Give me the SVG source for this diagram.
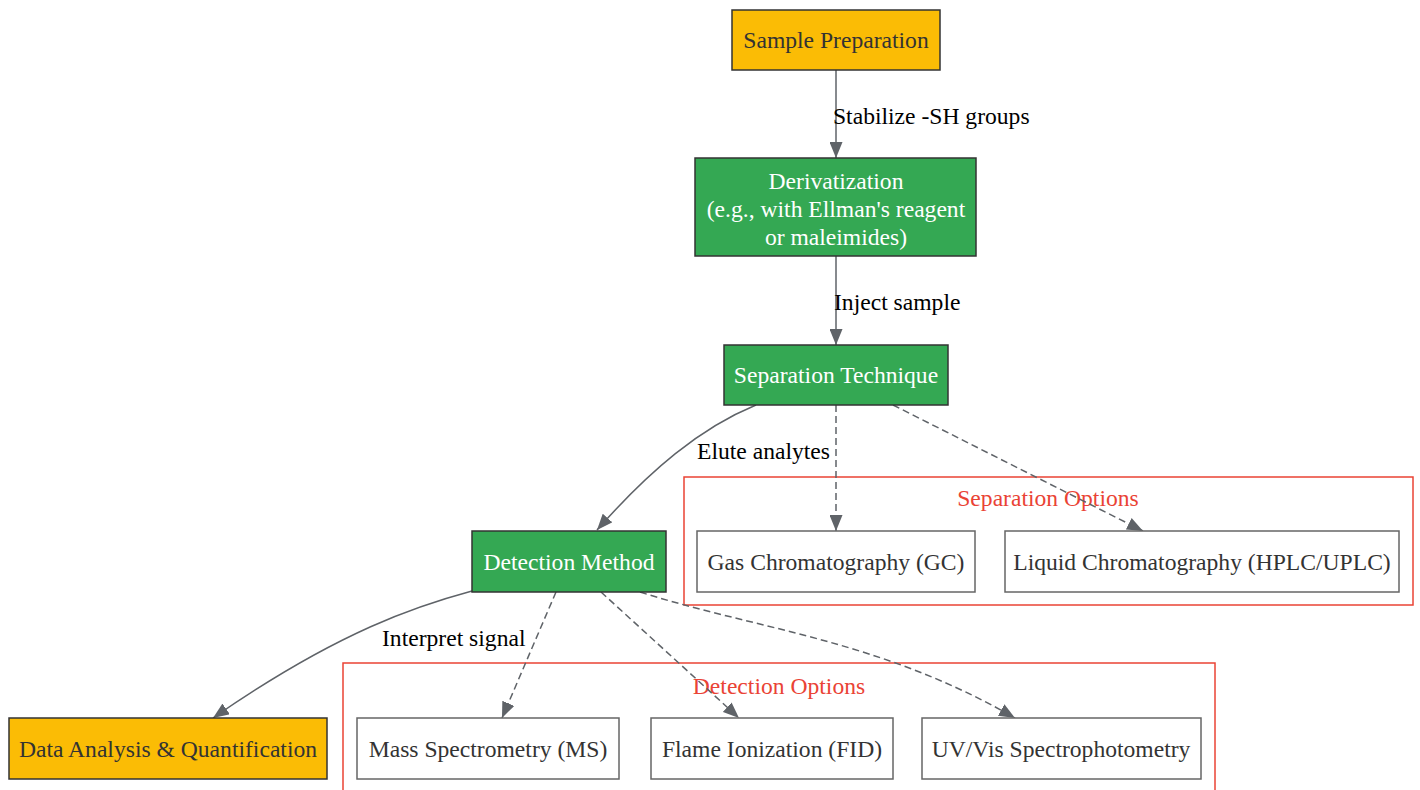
<svg xmlns="http://www.w3.org/2000/svg" width="1420" height="790" viewBox="0 0 1420 790">
<defs>
<marker id="ah" viewBox="0 0 16 13" refX="16" refY="6.5" markerWidth="16" markerHeight="13" markerUnits="userSpaceOnUse" orient="auto">
<path d="M0,0 L16,6.5 L0,13 Z" fill="#5f6368"/>
</marker>
<style>
text{font-family:"Liberation Serif","Times New Roman",serif;font-size:23.6px;text-anchor:middle;dominant-baseline:central}
.yel{fill:#FBBC05;stroke:#333;stroke-width:1.5}
.grn{fill:#34A853;stroke:#333;stroke-width:1.5}
.opt{fill:#fff;stroke:#666;stroke-width:1.5}
.clu{fill:none;stroke:#EA4335;stroke-width:1.5}
.dk{fill:#333}
.wt{fill:#fff}
.cl{fill:#EA4335}
.el{fill:#000;text-anchor:start}
.e{fill:none;stroke:#5f6368;stroke-width:1.5;marker-end:url(#ah)}
.d{stroke-dasharray:7,4}
</style>
</defs>
<rect width="1420" height="790" fill="#fff"/>
<g id="cluster_sep">
<rect class="clu" x="684" y="477" width="729" height="128"/>
<text class="cl" x="1048" y="498">Separation Options</text>
</g>
<g id="cluster_det">
<rect class="clu" x="343" y="663" width="872" height="140"/>
<text class="cl" x="779" y="686">Detection Options</text>
</g>
<g id="edges">
<path class="e" d="M836,70 L836,158"/>
<text class="el" x="833" y="116">Stabilize -SH groups</text>
<path class="e" d="M836,256 L836,345"/>
<text class="el" x="834" y="302">Inject sample</text>
<path class="e" d="M756,405 C700,428 650,470 597,530"/>
<text class="el" x="697" y="451">Elute analytes</text>
<path class="e d" d="M836,405 L836,531"/>
<path class="e d" d="M893,405 L1143,531"/>
<path class="e" d="M472,591 C420,605 340,630 213,718"/>
<text class="el" x="382" y="638">Interpret signal</text>
<path class="e d" d="M556,592 L502,718"/>
<path class="e d" d="M601,592 L739,718"/>
<path class="e d" d="M640,592 C760,630 880,640 1015,718"/>
</g>
<g id="sample_prep">
<rect class="yel" x="732" y="10" width="208" height="60"/>
<text class="dk" x="836" y="40">Sample Preparation</text>
</g>
<g id="derivatization">
<rect class="grn" x="695" y="158" width="281" height="98"/>
<text class="wt" x="836" y="181">Derivatization</text>
<text class="wt" x="836" y="209">(e.g., with Ellman's reagent</text>
<text class="wt" x="836" y="237">or maleimides)</text>
</g>
<g id="separation">
<rect class="grn" x="724" y="345" width="224" height="60"/>
<text class="wt" x="836" y="375">Separation Technique</text>
</g>
<g id="detection">
<rect class="grn" x="472" y="531" width="194" height="61"/>
<text class="wt" x="569" y="562">Detection Method</text>
</g>
<g id="data_analysis">
<rect class="yel" x="9" y="718" width="318" height="61"/>
<text class="dk" x="168" y="749">Data Analysis &amp; Quantification</text>
</g>
<g id="gc">
<rect class="opt" x="697" y="531" width="278" height="61"/>
<text class="dk" x="836" y="562">Gas Chromatography (GC)</text>
</g>
<g id="lc">
<rect class="opt" x="1005" y="531" width="394" height="61"/>
<text class="dk" x="1202" y="562">Liquid Chromatography (HPLC/UPLC)</text>
</g>
<g id="ms">
<rect class="opt" x="357" y="718" width="262" height="61"/>
<text class="dk" x="488" y="749">Mass Spectrometry (MS)</text>
</g>
<g id="fid">
<rect class="opt" x="651" y="718" width="242" height="61"/>
<text class="dk" x="772" y="749">Flame Ionization (FID)</text>
</g>
<g id="uvvis">
<rect class="opt" x="922" y="718" width="279" height="61"/>
<text class="dk" x="1061" y="749">UV/Vis Spectrophotometry</text>
</g>
</svg>
